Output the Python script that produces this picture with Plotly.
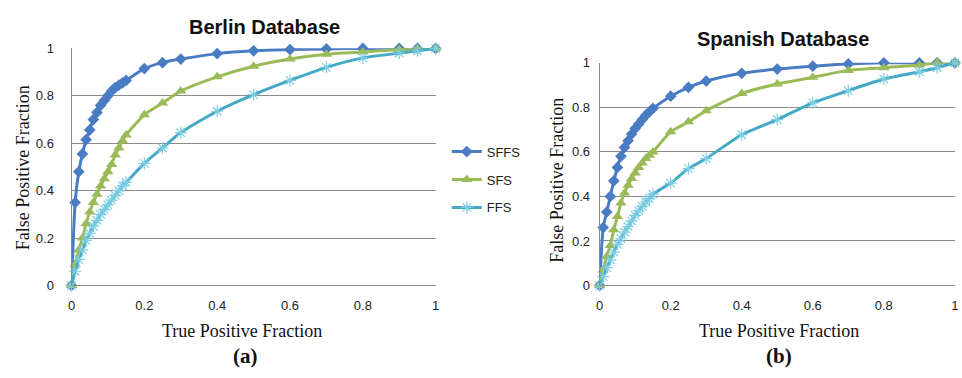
import plotly.graph_objects as go

# False positive / true positive sample positions (shared x grid)
fpr = [0, 0.01, 0.02, 0.03, 0.04, 0.05, 0.06, 0.07, 0.08, 0.09, 0.10, 0.11, 0.12,
       0.13, 0.14, 0.15, 0.2, 0.25, 0.3, 0.4, 0.5, 0.6, 0.7, 0.8, 0.9, 0.95, 1.0]

# Berlin Database
berlin_sffs = [0, 0.35, 0.48, 0.555, 0.615, 0.656, 0.70, 0.73, 0.76, 0.78, 0.80, 0.82, 0.835,
               0.845, 0.855, 0.865, 0.915, 0.94, 0.955, 0.978, 0.99, 0.995, 0.998, 1.0, 1.0, 1.0, 1.0]
berlin_sfs = [0, 0.09, 0.15, 0.20, 0.26, 0.31, 0.35, 0.385, 0.42, 0.45, 0.48, 0.51, 0.55,
              0.58, 0.61, 0.635, 0.72, 0.77, 0.82, 0.88, 0.925, 0.955, 0.975, 0.985, 0.995, 0.998, 1.0]
berlin_ffs = [0, 0.06, 0.11, 0.15, 0.19, 0.22, 0.25, 0.275, 0.30, 0.32, 0.34, 0.36, 0.38,
              0.40, 0.42, 0.435, 0.515, 0.58, 0.645, 0.735, 0.805, 0.865, 0.92, 0.96, 0.98, 0.99, 1.0]

# Spanish Database
spanish_sffs = [0, 0.26, 0.33, 0.40, 0.47, 0.53, 0.58, 0.62, 0.65, 0.68, 0.705, 0.725, 0.745,
                0.765, 0.78, 0.795, 0.85, 0.89, 0.918, 0.953, 0.972, 0.985, 0.995, 1.0, 1.0, 1.0, 1.0]
spanish_sfs = [0, 0.07, 0.13, 0.18, 0.25, 0.31, 0.37, 0.415, 0.45, 0.48, 0.505, 0.53, 0.55,
               0.57, 0.585, 0.60, 0.69, 0.735, 0.785, 0.862, 0.905, 0.935, 0.966, 0.978, 0.99, 1.0, 1.0]
spanish_ffs = [0, 0.04, 0.08, 0.115, 0.15, 0.185, 0.21, 0.24, 0.265, 0.29, 0.315, 0.335, 0.355,
               0.375, 0.39, 0.41, 0.46, 0.525, 0.57, 0.677, 0.745, 0.82, 0.875, 0.927, 0.96, 0.978, 1.0]

series_names = ["SFFS", "SFS", "FFS"]
tick_vals = [0, 0.2, 0.4, 0.6, 0.8, 1]
tick_text = ["0", "0.2", "0.4", "0.6", "0.8", "1"]

colors = ["#4A7CC4", "#9BBB59", "#45A9C5"]
marker_colors = ["#4A7CC4", "#9BBB59", "#7CCDE3"]
symbols = ["diamond", "triangle-up", "asterisk-open"]
sizes = [9, 10, 10]

W, H = 962, 378
fig = go.Figure()

datasets = [
    ("x", "y", [berlin_sffs, berlin_sfs, berlin_ffs], True),
    ("x2", "y2", [spanish_sffs, spanish_sfs, spanish_ffs], False),
]
for xa, ya, ys, show in datasets:
    for i, name in enumerate(series_names):
        mk = dict(symbol=symbols[i], size=sizes[i], color=marker_colors[i])
        if symbols[i] == "asterisk-open":
            mk["line"] = dict(color=marker_colors[i], width=1.2)
        fig.add_trace(go.Scatter(
            x=fpr, y=ys[i], name=name, xaxis=xa, yaxis=ya,
            mode="lines+markers",
            line=dict(color=colors[i], width=3, shape="spline", smoothing=0.6),
            marker=mk, showlegend=show, legendgroup=name, cliponaxis=False,
        ))

axis_common = dict(
    range=[0, 1.0005], tickvals=tick_vals, ticktext=tick_text,
    tickfont=dict(family="Liberation Sans", size=13, color="#222"),
    showgrid=False, zeroline=False, ticks="",
)

def px(x):
    return x / W

def py(y):
    return 1 - y / H

fig.update_layout(
    width=W, height=H, margin=dict(l=0, r=0, t=0, b=0),
    paper_bgcolor="white", plot_bgcolor="white",
    xaxis=dict(axis_common, domain=[px(68), px(435)], anchor="y",
               showline=True, linecolor="#8C8C8C", linewidth=1, ticklabelstandoff=8),
    yaxis=dict(axis_common, domain=[py(290), py(43)], anchor="x",
               showgrid=True, gridcolor="#8C8C8C", gridwidth=1,
               showline=True, linecolor="#8C8C8C", linewidth=1, ticklabelstandoff=14),
    xaxis2=dict(axis_common, domain=[px(600), px(958)], anchor="y2",
                showline=True, linecolor="#8C8C8C", linewidth=1, ticklabelstandoff=8),
    yaxis2=dict(axis_common, domain=[py(290), py(58)], anchor="x2",
                showgrid=True, gridcolor="#8C8C8C", gridwidth=1,
                showline=True, linecolor="#8C8C8C", linewidth=1, ticklabelstandoff=6),
    legend=dict(x=px(446), y=py(135), xanchor="left", yanchor="top",
                font=dict(family="Liberation Sans", size=13, color="#222"),
                tracegroupgap=8, bgcolor="rgba(0,0,0,0)"),
    showlegend=True,
)

ann = []
def add_text(text, x, y, font, angle=0):
    ann.append(dict(text=text, x=px(x), y=py(y), xref="paper", yref="paper",
                    showarrow=False, xanchor="center", yanchor="middle",
                    font=font, textangle=angle))

title_font = dict(family="Liberation Sans", size=20, color="#111")
serif = dict(family="Liberation Serif", size=18, color="#111")
bold_serif = dict(family="Liberation Serif", size=21, color="#111")

add_text("<b>Berlin Database</b>", 262, 21, title_font)
add_text("<b>Spanish Database</b>", 785, 33, title_font)
add_text("False Positive Fraction", 20, 167, serif, -90)
add_text("False Positive Fraction", 557, 180, serif, -90)
add_text("True Positive Fraction", 240, 337, serif)
add_text("True Positive Fraction", 781, 337, serif)
add_text("<b>(a)</b>", 243, 363, bold_serif)
add_text("<b>(b)</b>", 781, 363, bold_serif)
fig.update_layout(annotations=ann)

fig.write_html("out.html", config={"displayModeBar": False},
               post_script="document.body.style.margin='0';")
